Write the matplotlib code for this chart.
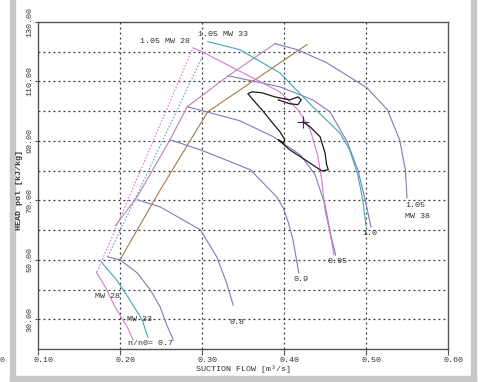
import matplotlib
matplotlib.use("Agg")
import matplotlib.pyplot as plt
import matplotlib.transforms as mtransforms
from matplotlib.patches import Rectangle

# ---------- data ----------
# MW 38 speed lines (n/n0)
mw38_07_x = [0.185, 0.200, 0.221, 0.237, 0.249, 0.257, 0.265]
mw38_07_y = [51.0, 50.0, 45.6, 39.9, 34.1, 28.1, 23.0]
mw38_08_x = [0.221, 0.249, 0.298, 0.318, 0.330, 0.338]
mw38_08_y = [70.2, 67.8, 60.1, 51.0, 42.2, 34.8]
mw38_09_x = [0.261, 0.298, 0.359, 0.391, 0.399, 0.405, 0.411, 0.418]
mw38_09_y = [90.4, 87.0, 80.3, 71.2, 67.5, 62.8, 56.7, 45.6]
mw38_095_x = [0.282, 0.346, 0.387, 0.420, 0.438, 0.450, 0.457, 0.463]
mw38_095_y = [101.5, 96.8, 91.4, 85.3, 78.6, 68.5, 58.4, 51.6]
mw38_10_x = [0.332, 0.395, 0.435, 0.456, 0.477, 0.490, 0.499, 0.506]
mw38_10_y = [111.9, 108.2, 103.8, 99.8, 89.7, 80.3, 70.2, 61.1]
mw38_105_x = [0.389, 0.416, 0.452, 0.501, 0.526, 0.541, 0.548, 0.550]
mw38_105_y = [122.7, 120.7, 116.3, 107.9, 100.5, 90.4, 80.3, 70.8]

# MW 33 speed lines
mw33_07_x = [0.178, 0.196, 0.212, 0.227, 0.234]
mw33_07_y = [49.0, 43.2, 36.5, 29.8, 24.0]
mw33_105_x = [0.307, 0.346, 0.395, 0.435, 0.468, 0.480, 0.490, 0.496, 0.500]
mw33_105_y = [123.4, 120.7, 112.9, 101.5, 92.7, 87.0, 78.6, 70.2, 61.4]

# MW 28 speed lines
mw28_07_x = [0.171, 0.182, 0.194, 0.209, 0.216]
mw28_07_y = [45.9, 40.9, 34.1, 27.4, 23.0]
mw28_105_x = [0.289, 0.300, 0.359, 0.395, 0.417, 0.432, 0.441, 0.446, 0.450, 0.456, 0.461]
mw28_105_y = [121.3, 120.0, 111.6, 106.5, 100.5, 93.7, 85.3, 76.9, 66.8, 59.1, 51.6]

# surge lines
surge28_x = [0.172, 0.289]
surge28_y = [45.9, 121.3]
surge38_dot_x = [0.185, 0.301]
surge38_dot_y = [51.0, 118.7]
surge38_x = [0.194, 0.221, 0.261, 0.282, 0.332, 0.389]
surge38_y = [61.4, 71.2, 90.4, 101.5, 111.9, 122.7]

# control line
control_x = [0.200, 0.249, 0.307, 0.428]
control_y = [50.0, 73.5, 99.8, 122.4]

# operating trace
trace_x = [0.423, 0.432, 0.444, 0.450, 0.452, 0.454, 0.446, 0.426, 0.407, 0.393,
           0.399, 0.401, 0.395, 0.385, 0.373, 0.361, 0.356, 0.361, 0.373, 0.389,
           0.407, 0.417, 0.421, 0.417, 0.407, 0.393]
trace_y = [96.4, 94.7, 91.4, 86.0, 82.0, 80.3, 79.9, 83.6, 87.0, 90.4,
           89.4, 90.4, 93.1, 96.4, 100.5, 104.2, 105.9, 106.5, 106.2, 104.8,
           103.8, 104.8, 103.8, 102.2, 102.5, 103.8]
point_x, point_y = 0.423, 96.4

x_ticks = [0.10, 0.20, 0.30, 0.40, 0.50, 0.60]
x_ticklabels = ["0.10", "0.20", "0.30", "0.40", "0.50", "0.60"]
y_ticks = [30, 50, 70, 90, 110, 130]
y_ticklabels = ["30.00", "50.00", "70.00", "90.00", "110.00", "130.00"]

# ---------- style ----------
C38 = "#7c7cbc"
C33 = "#3fa9b3"
C28 = "#d47ad4"
CSURGE = "#c080b8"
CCTRL = "#a8784a"
FONT = "Liberation Mono"
FS = 6

fig = plt.figure(figsize=(4.82, 3.82), dpi=100)
fig.patch.set_facecolor("white")

# screenshot frame
fig.patches.append(Rectangle((10 / 482, 0), 5 / 482, 1, transform=fig.transFigure,
                             color="#c8c8c8", zorder=-1))
fig.patches.append(Rectangle((471 / 482, 0), 5 / 482, 1, transform=fig.transFigure,
                             color="#c8c8c8", zorder=-1))
fig.patches.append(Rectangle((10 / 482, 0), 466 / 482, 6 / 382, transform=fig.transFigure,
                             color="#c8c8c8", zorder=-1))
fig.text(2 / 482, 1 - 360 / 382, "0", fontsize=FS, family=FONT, color="#444444",
         ha="center", va="center")

ax = fig.add_axes([38 / 482, 33 / 382, 410 / 482, 327 / 382])
ax.set_xlim(0.10, 0.60)
ax.set_ylim(20, 130)

# grid
for gx in [0.2, 0.3, 0.4, 0.5]:
    ax.axvline(gx, color="#333333", lw=0.9, linestyle=(0, (1.5, 2.5)), zorder=1)
for gy in range(30, 130, 10):
    ax.axhline(gy, color="#333333", lw=0.9, linestyle=(0, (1.5, 2.5)), zorder=1)

lw = 0.8
# surge lines
ax.plot(surge28_x, surge28_y, color=C28, lw=lw, linestyle=(0, (1.5, 1.5)))
ax.plot(surge38_dot_x, surge38_dot_y, color="#6aa0c8", lw=lw, linestyle=(0, (1.5, 1.5)))
ax.plot(surge38_x, surge38_y, color=CSURGE, lw=lw)
ax.plot(control_x, control_y, color=CCTRL, lw=lw)

# speed lines
for xs, ys in [(mw38_07_x, mw38_07_y), (mw38_08_x, mw38_08_y), (mw38_09_x, mw38_09_y),
               (mw38_095_x, mw38_095_y), (mw38_10_x, mw38_10_y), (mw38_105_x, mw38_105_y)]:
    ax.plot(xs, ys, color=C38, lw=lw)
ax.plot(mw33_07_x, mw33_07_y, color=C33, lw=lw)
ax.plot(mw33_105_x, mw33_105_y, color=C33, lw=lw)
ax.plot(mw28_07_x, mw28_07_y, color=C28, lw=lw)
ax.plot(mw28_105_x, mw28_105_y, color=C28, lw=lw)

# operating trace
ax.plot(trace_x, trace_y, color="#1a1a1a", lw=0.9)
ax.plot(point_x, point_y, marker="+", color="#333333", ms=8, mew=0.8)

# labels on curves
tk = dict(fontsize=FS, family=FONT, color="#333333")
ax.text(0.224, 123.4, "1.05 MW 28", va="center", **tk)
ax.text(0.295, 125.7, "1.05 MW 33", va="center", **tk)
ax.text(0.548, 68.3, "1.05", va="center", **tk)
ax.text(0.548, 64.6, "MW 38", va="center", **tk)
ax.text(0.496, 59.0, "1.0", va="center", **tk)
ax.text(0.453, 49.5, "0.95", va="center", **tk)
ax.text(0.412, 43.5, "0.9", va="center", **tk)
ax.text(0.334, 29.0, "0.8", va="center", **tk)
ax.text(0.170, 37.5, "MW 28", va="center", **tk)
ax.text(0.209, 30.0, "MW 33", va="center", **tk)
ax.text(0.210, 22.0, "n/n0= 0.7", va="center", **tk)

# axes
for s in ax.spines.values():
    s.set_color("#555555")
    s.set_linewidth(1.0)
ax.set_xticks(x_ticks)
ax.set_xticklabels(x_ticklabels, fontsize=FS, family=FONT, color="#333333")
ax.set_yticks(y_ticks)
ax.set_yticklabels(y_ticklabels, fontsize=FS, family=FONT, color="#333333",
                   rotation=90, va="center")
ax.tick_params(axis="x", length=4, width=0.8, color="#555555", pad=2)
ax.tick_params(axis="y", length=2, width=0.8, color="#555555", pad=1)
offset = mtransforms.ScaledTranslation(5 / 100, 0, fig.dpi_scale_trans)
for lab in ax.get_xticklabels():
    lab.set_transform(lab.get_transform() + offset)

ax.set_xlabel("SUCTION FLOW [m\u00b3/s]", fontsize=FS, family=FONT, color="#333333", labelpad=1)
ax.set_ylabel("HEAD pol [kJ/kg]", fontsize=FS, family=FONT, color="#333333",
              fontweight="bold")
ax.yaxis.set_label_coords(-0.036, 0.486)

fig.savefig("out.png", dpi=100)
